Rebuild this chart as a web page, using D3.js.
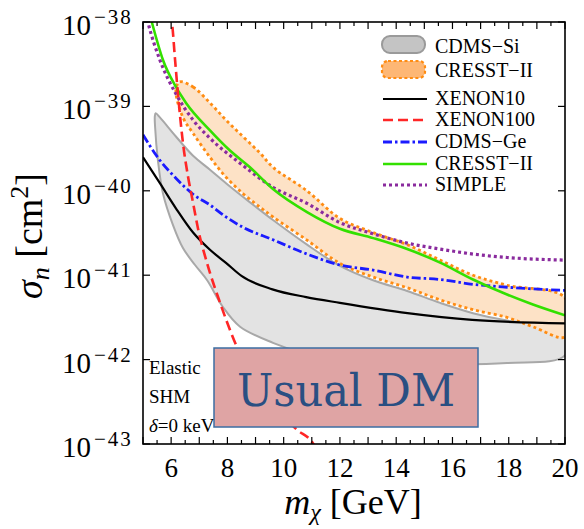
<!DOCTYPE html>
<html>
<head>
<meta charset="utf-8">
<script src="https://cdn.jsdelivr.net/npm/d3@7"></script>
<style>
  body { margin: 0; background: #fff; }
</style>
</head>
<body>
<svg id="chart" width="584" height="529"></svg>
<script>
// ---- data (mass in GeV, cross section in cm^2) ----
var massTicks = [6, 8, 10, 12, 14, 16, 18, 20];
var sigmaExponents = [-38, -39, -40, -41, -42, -43];

var xenon10 = [[5.0, 2.5e-40], [5.6, 1.23e-40], [6.17, 6.2e-41], [6.78, 3.2e-41], [7.38, 2.0e-41],
  [7.95, 1.4e-41], [8.5, 9.8e-42], [9.6, 6.8e-42], [10.8, 5.5e-42], [12.0, 4.7e-42],
  [14.4, 3.55e-42], [16.7, 2.95e-42], [20, 2.68e-42]];

var xenon100 = [[5.95, 1.3e-38], [6.03, 9.8e-39], [6.14, 3.55e-39], [6.24, 1.45e-39], [6.42, 3.7e-40],
  [6.6, 1.48e-40], [6.78, 7.2e-41], [6.96, 3.5e-41], [7.28, 1.38e-41], [7.74, 4.7e-42],
  [8.34, 1.41e-42], [9.41, 3.6e-43], [10.47, 1.48e-43], [11.04, 1.02e-43], [11.3, 7e-44]];

var cdmsGe = [[5.0, 4.6e-40], [5.6, 2.3e-40], [6.17, 1.41e-40], [6.78, 9.1e-41], [7.38, 6.8e-41],
  [7.95, 4.9e-41], [8.55, 3.7e-41], [9.62, 2.63e-41], [10.83, 1.78e-41], [12.0, 1.32e-41],
  [13.18, 1.15e-41], [14.39, 9.5e-42], [15.56, 8.9e-42], [16.73, 7.8e-42], [17.94, 7.2e-42], [20, 6.6e-42]];

var cresstLine = [[5.25, 1.2e-38], [5.32, 9.8e-39], [5.71, 3.55e-39], [6.17, 1.7e-39], [6.53, 1.1e-39],
  [7.38, 5.2e-40], [8.09, 3.0e-40], [8.8, 1.9e-40], [9.62, 1.05e-40], [10.83, 5.6e-41],
  [12.0, 3.55e-41], [13.18, 2.75e-41], [14.39, 2.04e-41], [15.56, 1.41e-41], [16.73, 8.9e-42],
  [17.94, 5.9e-42], [18.86, 4.5e-42], [20, 3.35e-42]];

var simple = [[5.1, 1.26e-38], [5.18, 9.8e-39], [5.6, 3.55e-39], [6.17, 1.41e-39], [6.78, 6.9e-40],
  [7.38, 4.2e-40], [8.55, 2.0e-40], [9.62, 1.1e-40], [10.83, 7.1e-41], [12.0, 4.2e-41],
  [13.18, 3.1e-41], [14.39, 2.4e-41], [15.56, 2.04e-41], [16.73, 1.78e-41], [17.94, 1.62e-41], [20, 1.51e-41]];

// closed contours: upper edge left->right, then lower edge right->left
var cresstBand = [[6.3, 1.95e-39], [6.78, 1.7e-39], [7.38, 1.1e-39], [7.95, 6.9e-40], [8.55, 4.4e-40],
  [9.16, 2.8e-40], [9.62, 1.9e-40], [10.83, 1.0e-40], [12.0, 4.7e-41], [13.18, 3.2e-41],
  [14.39, 2.3e-41], [15.56, 1.51e-41], [16.73, 1.0e-41], [17.94, 7.6e-42], [20, 5.4e-42],
  [20, 1.86e-42], [18.86, 2.45e-42], [17.94, 3.16e-42], [16.73, 3.9e-42], [15.56, 5.1e-42],
  [14.39, 7.1e-42], [13.18, 9.5e-42], [12.0, 1.38e-41], [10.83, 2.6e-41], [9.62, 4.9e-41],
  [9.16, 6.4e-41], [8.55, 9.3e-41], [7.95, 1.45e-40], [7.38, 2.5e-40], [6.78, 4.8e-40],
  [6.42, 7.4e-40], [6.17, 1.55e-39]];

var cdmsSi = [[5.45, 8.3e-40], [5.6, 7.4e-40], [6.17, 4.4e-40], [6.78, 2.6e-40], [7.38, 1.78e-40],
  [7.95, 1.23e-40], [8.55, 8.5e-41], [9.16, 5.9e-41], [9.62, 4.5e-41], [10.83, 2.3e-41],
  [12.0, 1.29e-41], [13.18, 8.7e-42], [14.39, 6.5e-42], [15.56, 4.7e-42], [16.73, 3.55e-42],
  [17.94, 2.9e-42], [20, 2.35e-42],
  [20, 1.12e-42], [17.94, 9.1e-43], [14.85, 8.9e-43], [12.0, 1.0e-42], [10.58, 1.23e-42],
  [9.62, 1.58e-42], [8.45, 2.45e-42], [7.84, 4.2e-42], [7.28, 8.7e-42], [6.85, 1.32e-41],
  [6.42, 2.1e-41], [6.07, 3.9e-41], [5.71, 9.3e-41], [5.53, 2.3e-40], [5.43, 5.7e-40], [5.42, 7.6e-40]];

var legendItems = ["CDMS\u2212Si", "CRESST\u2212II", "XENON10", "XENON100", "CDMS\u2212Ge", "CRESST\u2212II", "SIMPLE"];

// ---- layout ----
var plotLeft = 143, plotRight = 565, plotTop = 22, plotBottom = 444;
var svg = d3.select("#chart").attr("font-family", "Liberation Serif, Times New Roman, serif");

var x = d3.scaleLinear().domain([5, 20]).range([plotLeft, plotRight]);
var y = d3.scaleLog().domain([1e-43, 1e-38]).range([plotBottom, plotTop]);

svg.append("defs").append("clipPath").attr("id", "plot")
    .append("rect").attr("x", plotLeft).attr("y", plotTop)
    .attr("width", plotRight - plotLeft).attr("height", plotBottom - plotTop);

var plot = svg.append("g").attr("clip-path", "url(#plot)");

var line = d3.line()
    .x(function (d) { return x(d[0]); })
    .y(function (d) { return y(d[1]); })
    .curve(d3.curveMonotoneX);

var closedLine = d3.line()
    .x(function (d) { return x(d[0]); })
    .y(function (d) { return y(d[1]); })
    .curve(d3.curveCatmullRomClosed.alpha(0.5));

plot.append("path").attr("d", closedLine(cdmsSi))
    .attr("fill", "#e3e3e3").attr("stroke", "#a8a8a8").attr("stroke-width", 2);

plot.append("path").attr("d", closedLine(cresstBand))
    .attr("fill", "#fde2c6").attr("stroke", "#ff8c12").attr("stroke-width", 2.8)
    .attr("stroke-dasharray", "3,3");

var curves = [
    {data: xenon10, color: "#000", width: 2.2, dash: null},
    {data: cdmsGe, color: "#1b1bff", width: 2.8, dash: "9,3,2.5,3"},
    {data: simple, color: "#8a2b9e", width: 3.2, dash: "3,3"},
    {data: cresstLine, color: "#33e000", width: 2.6, dash: null},
    {data: xenon100, color: "#ff2626", width: 2.6, dash: "10,5"}
];

plot.selectAll("path.curve")
    .data(curves).enter()
    .append("path")
    .attr("class", "curve")
    .attr("d", function (d) { return line(d.data); })
    .attr("fill", "none")
    .attr("stroke", function (d) { return d.color; })
    .attr("stroke-width", function (d) { return d.width; })
    .attr("stroke-dasharray", function (d) { return d.dash; });

// ---- frame and ticks ----
svg.append("rect").attr("x", plotLeft).attr("y", plotTop)
    .attr("width", plotRight - plotLeft).attr("height", plotBottom - plotTop)
    .attr("fill", "none").attr("stroke", "#000").attr("stroke-width", 1.6);

var halfTicks = d3.range(5, 20.01, 0.5);
svg.selectAll("line.xt")
    .data(halfTicks.concat(halfTicks.map(function (v) { return -v; })))
    .enter().append("line")
    .attr("class", "xt")
    .attr("x1", function (d) { return x(Math.abs(d)); })
    .attr("x2", function (d) { return x(Math.abs(d)); })
    .attr("y1", function (d) { return d > 0 ? plotBottom : plotTop; })
    .attr("y2", function (d) {
        var len = (Math.abs(d) % 1 === 0) ? 7 : 4;
        return d > 0 ? plotBottom - len : plotTop + len;
    })
    .attr("stroke", "#000").attr("stroke-width", 1.2);

svg.selectAll("line.yt")
    .data(sigmaExponents.concat(sigmaExponents.map(function (e) { return e - 100; })))
    .enter().append("line")
    .attr("class", "yt")
    .attr("y1", function (d) { return y(Math.pow(10, d > -50 ? d : d + 100)); })
    .attr("y2", function (d) { return y(Math.pow(10, d > -50 ? d : d + 100)); })
    .attr("x1", function (d) { return d > -50 ? plotLeft : plotRight; })
    .attr("x2", function (d) { return d > -50 ? plotLeft + 7 : plotRight - 7; })
    .attr("stroke", "#000").attr("stroke-width", 1.2);

svg.selectAll("text.xl")
    .data(massTicks).enter()
    .append("text")
    .attr("class", "xl")
    .attr("x", function (d) { return x(d); })
    .attr("y", 477)
    .attr("text-anchor", "middle")
    .attr("font-size", 27)
    .text(function (d) { return d; });

var yl = svg.selectAll("g.yl")
    .data(sigmaExponents).enter()
    .append("g").attr("class", "yl")
    .attr("transform", function (d) { return "translate(0," + y(Math.pow(10, d)) + ")"; });
yl.append("text").attr("x", 91).attr("y", 13).attr("text-anchor", "end")
    .attr("font-size", 29).text("10");
yl.append("text").attr("x", 94).attr("y", 2).attr("font-size", 21)
    .attr("letter-spacing", 2)
    .text(function (d) { return "\u2212" + Math.abs(d); });

// axis titles
var xt = svg.append("text").attr("x", 353).attr("y", 514).attr("text-anchor", "middle")
    .attr("font-size", 36);
xt.append("tspan").attr("font-style", "italic").text("m");
xt.append("tspan").attr("font-style", "italic").attr("font-size", 24).attr("dy", 6).text("\u03c7");
xt.append("tspan").attr("dy", -6).text(" [GeV]");

var yt = svg.append("text").attr("transform", "translate(42,236) rotate(-90)")
    .attr("text-anchor", "middle").attr("font-size", 38);
yt.append("tspan").attr("font-style", "italic").text("\u03c3");
yt.append("tspan").attr("font-style", "italic").attr("font-size", 26).attr("dy", 7).text("n");
yt.append("tspan").attr("dy", -7).text(" [cm");
yt.append("tspan").attr("font-size", 26).attr("dy", -14).text("2");
yt.append("tspan").attr("dy", 14).text("]");

// ---- legend ----
var legBase = [53, 77, 105, 126, 148, 170, 191];
svg.selectAll("text.leg")
    .data(legendItems).enter()
    .append("text").attr("class", "leg")
    .attr("x", 435)
    .attr("y", function (d, i) { return legBase[i]; })
    .attr("font-size", 20)
    .text(function (d) { return d; });

svg.append("rect").attr("x", 382).attr("y", 36).attr("width", 43).attr("height", 17).attr("rx", 8)
    .attr("fill", "#c4c4c4").attr("stroke", "#9a9a9a").attr("stroke-width", 2);
svg.append("rect").attr("x", 382).attr("y", 61).attr("width", 43).attr("height", 17).attr("rx", 6)
    .attr("fill", "#fdb775").attr("stroke", "#ff8c12").attr("stroke-width", 2.2)
    .attr("stroke-dasharray", "3,2.5");

var legendCurves = [curves[0], curves[4], curves[1], curves[3], curves[2]];
svg.selectAll("line.leg")
    .data(legendCurves)
    .enter().append("line").attr("class", "leg")
    .attr("x1", 383).attr("x2", 427)
    .attr("y1", function (d, i) { return legBase[i + 2] - 6; })
    .attr("y2", function (d, i) { return legBase[i + 2] - 6; })
    .attr("stroke", function (d) { return d.color; })
    .attr("stroke-width", function (d) { return d.width; })
    .attr("stroke-dasharray", function (d) { return d.dash; });

// ---- annotations ----
svg.append("text").attr("x", 149).attr("y", 374).attr("font-size", 19).text("Elastic");
svg.append("text").attr("x", 149).attr("y", 403).attr("font-size", 19).text("SHM");
var dl = svg.append("text").attr("x", 149).attr("y", 432).attr("font-size", 19);
dl.append("tspan").attr("font-style", "italic").text("\u03b4");
dl.append("tspan").text("=0 keV");

svg.append("rect").attr("x", 214).attr("y", 348).attr("width", 264).attr("height", 79)
    .attr("fill", "#dfa4a4").attr("stroke", "#3d6ea3").attr("stroke-width", 1.5);
svg.append("text").attr("x", 346).attr("y", 406).attr("text-anchor", "middle")
    .attr("font-family", "DejaVu Serif, serif")
    .attr("font-size", 44).attr("fill", "#2a4f82")
    .attr("textLength", 218).attr("lengthAdjust", "spacingAndGlyphs")
    .text("Usual DM");
</script>
</body>
</html>
